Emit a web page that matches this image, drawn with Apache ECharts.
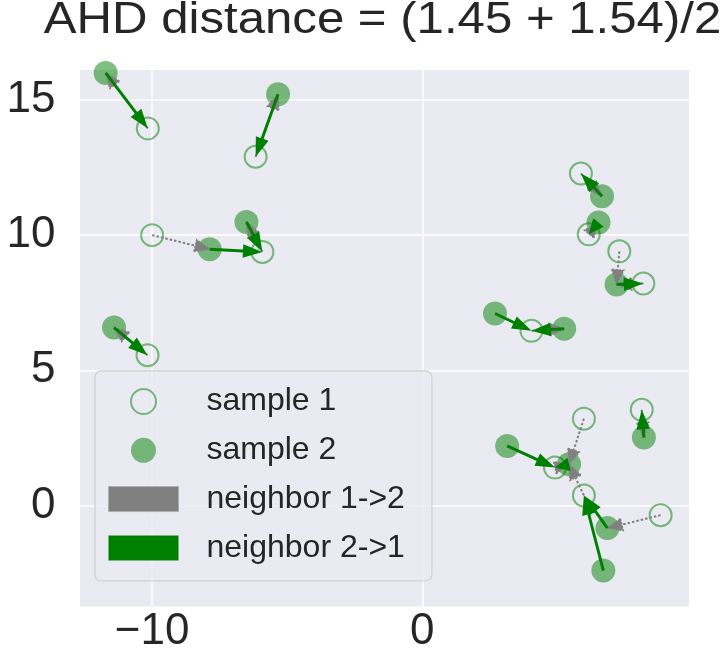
<!DOCTYPE html>
<html><head><meta charset="utf-8">
<script src="https://cdn.jsdelivr.net/npm/echarts@6/dist/echarts.min.js"></script>
<style>html,body{margin:0;padding:0;background:#fff}#c{width:726px;height:655px}</style>
</head><body><div id="c"></div>
<script>
const titleText = 'AHD distance = (1.45 + 1.54)/2';
const xTicks = [-10, 0];
const yTicks = [0, 5, 10, 15];
const sample1 = [[-10.16,13.95],[-6.17,12.90],[-10.00,10.00],[-5.92,9.38],[-10.17,5.56],[5.87,12.28],[6.16,10.03],[7.29,9.40],[8.18,8.21],[4.04,6.46],[8.12,3.54],[5.98,3.21],[4.91,1.40],[5.98,0.37],[8.82,-0.36]];
const sample2 = [[-11.72,16.00],[-5.34,15.21],[-7.87,9.48],[-6.51,10.49],[-11.41,6.58],[6.65,11.44],[6.52,10.47],[7.19,8.17],[2.69,7.10],[5.25,6.54],[8.20,2.51],[3.14,2.20],[5.43,1.52],[6.85,-0.84],[6.70,-2.41]];
// nearest neighbour of each sample-1 point in sample 2 (index into sample2)
const neighbor12 = [0,1,2,3,4,5,6,7,7,9,10,12,12,12,13];
// nearest neighbour of each sample-2 point in sample 1 (index into sample1)
const neighbor21 = [0,1,3,3,4,5,6,8,9,9,10,12,12,13,13];
const legendNames = ['sample 1','sample 2','neighbor 1->2','neighbor 2->1'];

const arrows12 = sample1.map((p,i)=>[p[0],p[1],sample2[neighbor12[i]][0],sample2[neighbor12[i]][1]]);
const arrows21 = sample2.map((p,i)=>[p[0],p[1],sample1[neighbor21[i]][0],sample1[neighbor21[i]][1]]);

const FONT = '"Liberation Sans", Arial, sans-serif';
const TXT = '#262626';

function makeArrow(opts){
  return function(params, api){
    const p1 = api.coord([api.value(0), api.value(1)]);
    const p2 = api.coord([api.value(2), api.value(3)]);
    const dx = p2[0]-p1[0], dy = p2[1]-p1[1];
    const L = Math.hypot(dx,dy) || 1;
    const ux = dx/L, uy = dy/L, nx = -uy, ny = ux;
    const unit = api.size([1,0])[0];
    const hw = opts.headWidth*unit/2;
    const hl = Math.min(opts.headLength*unit, L);
    const sw = opts.width*unit/2;
    const bx = p2[0]-ux*hl, by = p2[1]-uy*hl;
    if (opts.dotted){
      return {type:'group', children:[
        {type:'line', shape:{x1:p1[0],y1:p1[1],x2:bx,y2:by},
         style:{stroke:opts.color, lineWidth:2, lineDash:[2.5,2]}},
        {type:'polygon', shape:{points:[[bx+nx*hw,by+ny*hw],p2,[bx-nx*hw,by-ny*hw]]},
         style:{fill:opts.color, stroke:opts.color, lineWidth:1.5, lineDash:[2,1.5]}}
      ]};
    }
    return {type:'polygon', shape:{points:[
      [p1[0]+nx*sw,p1[1]+ny*sw],[bx+nx*sw,by+ny*sw],[bx+nx*hw,by+ny*hw],p2,
      [bx-nx*hw,by-ny*hw],[bx-nx*sw,by-ny*sw],[p1[0]-nx*sw,p1[1]-ny*sw]]},
      style:{fill:opts.color}};
  };
}

const chart = echarts.init(document.getElementById('c'), null, {renderer:'canvas'});
chart.setOption({
  animation:false,
  backgroundColor:'#ffffff',
  graphic:[{type:'text', x:382.5, y:20.5, scaleX:1.117, originX:0, originY:0, z:10,
    style:{text:titleText, font:'44px '+FONT, fill:TXT, textAlign:'center', textVerticalAlign:'middle'}}],
  grid:{left:80, top:70, right:37, bottom:48.5, show:true, backgroundColor:'#eaeaf2', borderWidth:0},
  xAxis:{type:'value', min:-12.67, max:9.87,
    axisLine:{show:false}, axisTick:{show:false, customValues:xTicks},
    axisLabel:{customValues:xTicks, fontSize:44, fontFamily:FONT, color:TXT, margin:3,
      formatter:v=>v<0?'\u2212'+Math.abs(v):String(v)},
    splitLine:{show:true, lineStyle:{color:'#ffffff', width:1.5}}},
  yAxis:{type:'value', min:-3.74, max:16.11,
    axisLine:{show:false}, axisTick:{show:false, customValues:yTicks},
    axisLabel:{customValues:yTicks, fontSize:44, fontFamily:FONT, color:TXT, margin:24.5},
    splitLine:{show:true, lineStyle:{color:'#ffffff', width:1.5}}},
  legend:{orient:'vertical', left:95, top:371, padding:[14.5,27,17,13],
    itemWidth:70, itemHeight:25, itemGap:16.8,
    backgroundColor:'rgba(234,234,242,0.8)', borderColor:'#d2d2d2', borderWidth:1.3, borderRadius:6,
    textStyle:{fontSize:32, fontFamily:FONT, color:TXT, padding:[0,0,0,23]},
    selectedMode:false,
    data:[
      {name:legendNames[0], icon:'circle', itemStyle:{color:'rgba(0,0,0,0)', borderColor:'rgba(0,128,0,0.5)', borderWidth:2}},
      {name:legendNames[1], icon:'circle', itemStyle:{color:'rgba(0,128,0,0.5)', borderWidth:0}},
      {name:legendNames[2], icon:'rect', itemStyle:{color:'#808080', borderColor:'#a8a8a8', borderWidth:1, borderType:'dotted'}},
      {name:legendNames[3], icon:'rect', itemStyle:{color:'#008000', borderWidth:0}}
    ]},
  series:[
    {name:legendNames[0], type:'scatter', data:sample1, symbol:'circle', symbolSize:22, z:2,
      itemStyle:{color:'rgba(0,0,0,0)', borderColor:'rgba(0,128,0,0.5)', borderWidth:2, opacity:1}},
    {name:legendNames[1], type:'scatter', data:sample2, symbol:'circle', symbolSize:24, z:3,
      itemStyle:{color:'rgba(0,128,0,0.5)', opacity:1}},
    {name:legendNames[2], type:'custom', data:arrows12, z:4, encode:{x:[0,2], y:[1,3]},
      itemStyle:{color:'#808080'},
      renderItem:makeArrow({color:'#808080', width:0.08, headWidth:0.45, headLength:0.55, dotted:true})},
    {name:legendNames[3], type:'custom', data:arrows21, z:5, encode:{x:[0,2], y:[1,3]},
      itemStyle:{color:'#008000'},
      renderItem:makeArrow({color:'#008000', width:0.11, headWidth:0.5, headLength:0.72})}
  ]
});
</script></body></html>
